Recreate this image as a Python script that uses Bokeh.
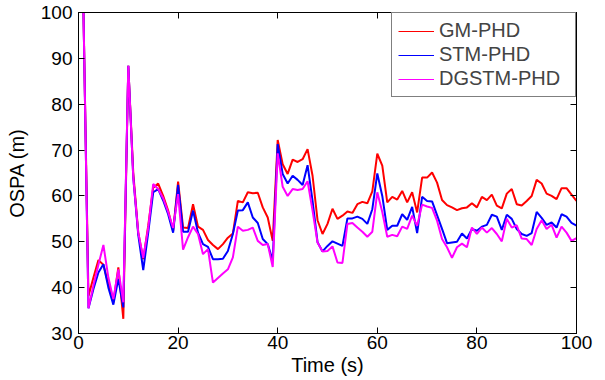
from bokeh.plotting import figure
from bokeh.models import Range1d, FixedTicker, LinearAxis, Legend, LegendItem, ColumnDataSource
from bokeh.embed import file_html
from bokeh.resources import INLINE

time_s = list(range(1, 101))

gm_phd = [100, 38.2, 42.2, 46.0, 45.0, 40.8, 36.8, 44.4, 33.2, 88.4,
          65.0, 52.0, 46.2, 53.5, 61.8, 62.7, 60.0, 56.8, 52.4, 63.1,
          53.1, 53.0, 58.2, 53.3, 52.6, 50.4, 49.3, 48.4, 49.5, 50.9,
          51.8, 58.9, 58.6, 60.8, 60.6, 60.7, 57.5, 55.3, 50.2, 72.2,
          66.9, 64.8, 67.9, 67.4, 68.0, 70.2, 64.4, 54.7, 51.7, 53.9,
          57.2, 55.0, 55.7, 56.6, 56.3, 58.2, 58.7, 58.4, 61.0, 69.2,
          66.6, 58.6, 59.8, 59.2, 61.1, 58.6, 60.8, 56.4, 64.0, 64.0,
          65.1, 62.9, 59.1, 58.0, 57.5, 56.9, 57.3, 57.5, 58.4, 57.5,
          59.8, 59.1, 60.3, 57.9, 57.3, 60.5, 61.5, 58.2, 57.9, 58.9,
          60.0, 63.5, 62.7, 60.5, 60.0, 59.3, 61.7, 61.7, 60.3, 58.9]

stm_phd = [100, 35.5, 39.7, 43.3, 45.1, 40.0, 36.3, 41.9, 35.7, 88.4,
           64.0, 51.5, 43.8, 52.0, 60.8, 61.5, 59.0, 56.0, 52.0, 62.4,
           52.2, 52.2, 56.8, 52.0, 49.5, 48.9, 46.2, 46.2, 46.3, 48.0,
           51.7, 56.8, 56.9, 58.6, 55.3, 54.1, 50.6, 49.5, 45.9, 71.3,
           64.8, 62.7, 64.4, 63.5, 62.4, 66.7, 58.9, 49.9, 47.9, 49.1,
           50.1, 49.6, 49.1, 55.1, 55.1, 55.5, 55.0, 53.9, 57.1, 64.9,
           60.0, 52.6, 53.5, 53.5, 56.0, 54.8, 57.6, 51.9, 59.8, 58.9,
           58.8, 55.8, 52.8, 49.7, 49.85, 50.0, 51.8, 50.7, 52.8, 52.4,
           53.3, 53.7, 55.9, 55.5, 52.6, 55.9, 55.0, 52.8, 51.7, 51.3,
           51.9, 56.5, 55.2, 53.7, 54.2, 53.1, 56.0, 55.5, 54.1, 53.5]

dgstm_phd = [100, 35.5, 40.5, 45.0, 49.3, 42.2, 37.5, 44.0, 36.8, 88.4,
             64.0, 52.0, 46.5, 53.0, 62.6, 61.5, 59.5, 56.5, 53.0, 60.4,
             48.3, 51.0, 53.3, 51.7, 47.3, 48.4, 41.1, 42.1, 43.1, 44.0,
             46.6, 53.3, 52.4, 52.6, 53.1, 50.2, 49.3, 49.5, 44.5, 69.3,
             62.0, 60.0, 61.5, 61.3, 61.5, 63.2, 56.8, 49.85, 47.9, 48.0,
             49.0, 45.5, 45.4, 53.9, 54.1, 53.1, 52.2, 51.1, 52.2, 60.8,
             56.5, 51.1, 51.5, 51.2, 53.3, 52.8, 55.7, 53.5, 58.1, 57.7,
             57.4, 54.6, 50.6, 48.8, 46.5, 48.8, 49.6, 48.8, 53.1, 51.7,
             53.1, 52.0, 53.0, 51.7, 50.1, 55.0, 53.1, 53.6, 50.7, 50.6,
             49.3, 52.8, 54.7, 52.8, 53.7, 50.9, 53.3, 52.0, 50.2, 50.8]

series_names = ["GM-PHD", "STM-PHD", "DGSTM-PHD"]
series_colors = ["#ff0000", "#0000ff", "#ff00ff"]
x_ticks = [0, 20, 40, 60, 80, 100]
y_ticks = [30, 40, 50, 60, 70, 80, 90, 100]

FONT = "Liberation Sans"

p = figure(width=605, height=380, output_backend="svg", toolbar_location=None,
           x_range=Range1d(0, 100), y_range=Range1d(30, 100),
           min_border_left=78, min_border_right=29, min_border_top=12, min_border_bottom=47)
p.grid.visible = False
p.outline_line_color = "black"
p.outline_line_width = 1
p.background_fill_color = "white"
p.border_fill_color = "white"

for ax in (p.xaxis[0], p.yaxis[0]):
    ax.major_tick_in = 6
    ax.major_tick_out = 0
    ax.minor_tick_line_color = None
    ax.axis_line_color = "black"
    ax.major_tick_line_color = "black"
    ax.major_label_text_font = FONT
    ax.major_label_text_font_size = "19px"
    ax.major_label_text_color = "black"
    ax.axis_label_text_font = FONT
    ax.axis_label_text_font_size = "20px"
    ax.axis_label_text_font_style = "normal"
    ax.axis_label_text_color = "black"

p.xaxis.ticker = FixedTicker(ticks=x_ticks)
p.yaxis.ticker = FixedTicker(ticks=y_ticks)
p.xaxis.axis_label = "Time (s)"
p.yaxis.axis_label = "OSPA (m)"
p.xaxis.major_label_standoff = 2
p.xaxis.axis_label_standoff = 2
p.yaxis.major_label_standoff = 6
p.yaxis.axis_label_standoff = 10

top_ax = LinearAxis(ticker=FixedTicker(ticks=x_ticks), major_tick_in=6, major_tick_out=0,
                    minor_tick_line_color=None, major_label_text_font_size="0px",
                    major_label_standoff=0, axis_line_color="black")
right_ax = LinearAxis(ticker=FixedTicker(ticks=y_ticks), major_tick_in=6, major_tick_out=0,
                      minor_tick_line_color=None, major_label_text_font_size="0px",
                      major_label_standoff=0, axis_line_color="black")
p.add_layout(top_ax, "above")
p.add_layout(right_ax, "right")

src = ColumnDataSource(dict(t=time_s, gm=gm_phd, stm=stm_phd, dg=dgstm_phd))
for col, c in zip(["gm", "stm", "dg"], series_colors):
    p.line("t", col, source=src, line_color=c, line_width=2)

nan = float("nan")
items = []
for name, c in zip(series_names, series_colors):
    key = p.line(x=[nan], y=[nan], line_color=c, line_width=1)
    items.append(LegendItem(label=name, renderers=[key]))

legend = Legend(items=items, location="top_right", margin=0, padding=6,
                spacing=1, glyph_width=36, glyph_height=18, label_height=18,
                label_width=130, label_standoff=5, label_text_font=FONT,
                label_text_font_size="20px",
                border_line_color="black", border_line_width=1,
                background_fill_color="white", background_fill_alpha=1)
p.add_layout(legend, "center")

open("out.html", "w").write(file_html(p, INLINE))
